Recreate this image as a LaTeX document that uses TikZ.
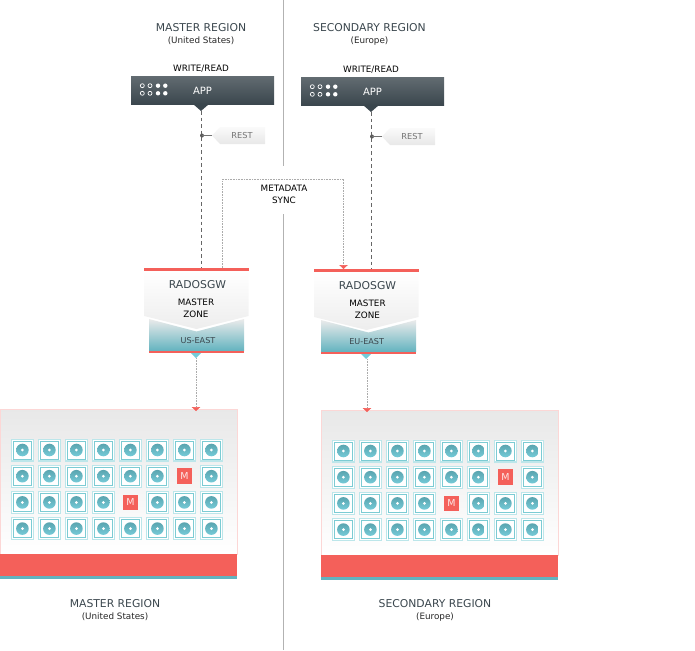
\documentclass[tikz,border=0pt]{standalone}
\usepackage{fontspec}
\setmainfont{DejaVu Sans}
\usetikzlibrary{arrows.meta,calc,positioning}
\definecolor{cephred}{HTML}{F4605A}
\definecolor{cephteal}{HTML}{62B3BF}
\definecolor{cephlight}{HTML}{BCE6EA}
\definecolor{cephedge}{HTML}{7CCBD3}
\definecolor{cephtip}{HTML}{75CBD8}
\definecolor{cephslate}{HTML}{3A464D}
\tikzset{
  regionlabel/.style={font=\fontsize{10.8}{12}\selectfont, text=cephslate, inner sep=0pt},
  sublabel/.style={font=\fontsize{8.8}{10}\selectfont, text=black!85, inner sep=0pt},
  blacklabel/.style={font=\fontsize{8.8}{12}\selectfont, text=black, inner sep=0pt, align=center},
  appbar/.style={minimum width=143pt, minimum height=28pt, inner sep=0pt,
    top color=cephslate!80!white, bottom color=cephslate,
    font=\fontsize{10}{12}\selectfont, text=white},
  resttag/.style={font=\fontsize{8.2}{10}\selectfont, text=black!55, inner sep=0pt},
  dashline/.style={draw=black!60, dash pattern=on 3.5pt off 3pt, line width=0.7pt},
  dotline/.style={draw=black!33, densely dotted, line width=0.6pt},
  redtip/.style={-{Triangle[length=4pt, width=8.5pt, color=cephred]}},
  tilebox/.style={fill=white, draw=cephedge, line width=0.9pt},
  mbox/.style={fill=cephred, minimum size=15.5pt, inner sep=0pt, text=white!85!cephred,
    font=\fontsize{9.5}{11}\selectfont}
}
\begin{document}
\begin{tikzpicture}[x=1pt, y=-1pt]
  \useasboundingbox (0,0) rectangle (695,650);
  % Divider between the two regions
  \coordinate (dividertop) at (283,0);
  \coordinate (dividermid) at (283,166);
  \coordinate (dividerlow) at (283,214);
  \coordinate (dividerend) at (283,650);
  \draw[black!30, line width=0.8pt] (dividertop) -- (dividermid);
  \draw[black!30, line width=0.8pt] (dividerlow) -- (dividerend);

  % === Upper half: app, rest tag and gateway ===
  \foreach \s/\dx/\dy/\hx/\tz/\ez/\rz/\title/\place/\zone in {
    a/0/0/201/0/198/196/MASTER REGION/(United States)/US-EAST,
    b/170/1/369.5/2/196.7/197.5/SECONDARY REGION/(Europe)/EU-EAST} {
    \node[regionlabel] (title\s) at (\hx,27.5) {\title};
    \node[sublabel] (place\s) at (\hx,41) {\place};
    \begin{scope}[shift={(\dx,\dy)}]
      \node[blacklabel] (write\s) at (201,68.5) {WRITE/READ};
      % Gateway block
      \fill[cephred] (144,268) rectangle (248.5,271);
      \path[top color=white, bottom color=black!7]
        (144,271) -- (248.5,271) -- (248.5,316) -- (196.5,329) -- (144,316) -- cycle;
      \begin{scope}[xshift=\tz]
      \path[top color=black!8, bottom color=cephteal]
        (149,319) -- (196.5,331.5) -- (244,319) -- (244,351) -- (149,351) -- cycle;
      \fill[cephred] (149,351) rectangle (244,353);
      \end{scope}
      \fill[cephtip] (191,353) -- (201,353) -- (196,358) -- cycle;
      \node[regionlabel] (rgw\s) at (197.5,285) {RADOSGW};
      \node[blacklabel] (zone\s) at (\rz,308) {MASTER\\ZONE};
      \node[sublabel, font=\fontsize{8.1}{10}\selectfont, text=cephslate] (east\s) at (\ez,340.5) {\zone};
      \coordinate (rgwtop\s) at (201,268);
      % App bar
      \node[appbar] (app\s) at (202.5,90.5) {APP};
      \fill[cephslate] (193,104) -- (209,104) -- (201,111) -- cycle;
      \foreach \py in {85.7,93.3} {
        \foreach \px in {142.3,150} {
          \draw[white, line width=0.7pt] (\px,\py) circle (2pt);
        }
        \foreach \px in {158,165.3} {
          \fill[white] (\px,\py) circle (2.2pt);
        }
      }
      \coordinate (appout\s) at (201,111);
      \draw[dashline] (appout\s) -- (rgwtop\s);
      % Rest tag
      \path[top color=black!2, bottom color=black!9]
        (220,127) -- (265,127) -- (265,144) -- (220,144) -- (212,135.5) -- cycle;
      \node[resttag] (rest\s) at (242,135.5) {REST};
      \coordinate (restdot\s) at (202,135.5);
      \coordinate (restin\s) at (212,135.5);
      \fill[black!65] (restdot\s) circle (2pt);
      \draw[black!55, line width=0.5pt] (restdot\s) -- (restin\s);
    \end{scope}
  }

  % === Lower half: cluster panels ===
  \foreach \s/\cx/\cy/\lx/\title/\place/\ma/\mb in {
    a/0/0/115/MASTER REGION/(United States)/7/5,
    b/321/1/435/SECONDARY REGION/(Europe)/7/5} {
    \node[regionlabel] (lowtitle\s) at (\lx,603.5) {\title};
    \node[sublabel] (lowplace\s) at (\lx,617) {\place};
    \begin{scope}[shift={(\cx,\cy)}]
      \path[top color=black!9, bottom color=white, draw=cephred!25, line width=0.6pt]
        (0,409) rectangle (237,554);
      \fill[cephred] (0,554) rectangle (237,576);
      \fill[cephteal] (0,576) rectangle (237,579);
      \coordinate (panel\s) at (0,409);
      % Disk tiles
      \foreach \c in {1,...,8} {
        \foreach \r in {1,...,4} {
          \pgfmathsetmacro{\tx}{22.4+(\c-1)*27}
          \pgfmathsetmacro{\ty}{450+(\r-1)*26.2}
          \pgfmathtruncatemacro{\ism}{(\c==\ma && \r==2) || (\c==\mb && \r==3) ? 1 : 0}
          \ifnum\ism=1
            \node[mbox] (mon\s\c) at (\tx,\ty) {M};
          \else
            \fill[cephlight] (\tx-11.5,\ty-11.5) rectangle ++(23,23);
            \fill[white] (\tx-10.3,\ty-10.3) rectangle ++(20.6,20.6);
            \draw[tilebox] (\tx-9,\ty-9) rectangle ++(18,18);
            \shade[top color=cephteal!92!black, bottom color=cephtip] (\tx,\ty) circle (6.3pt);
            \fill[white] (\tx,\ty) circle (1.5pt);
          \fi
        }
      }
    \end{scope}
  }

  % === Connectors from gateway to cluster ===
  \coordinate (paneltopa) at (196,411);
  \coordinate (paneltopb) at (367,412);
  \coordinate (gwa) at (196,358);
  \coordinate (gwb) at (367,359);
  \draw[dotline, redtip] (gwa) -- (paneltopa);
  \draw[dotline, redtip] (gwb) -- (paneltopb);

  % Metadata sync
  \coordinate (syncstart) at (222.5,268);
  \coordinate (synctop) at (283,179);
  \coordinate (syncend) at (343.5,269);
  \draw[dotline, redtip] (syncstart) |- (synctop) -| (syncend);
  \node[blacklabel, font=\fontsize{8.8}{11.4}\selectfont] (syncnode) at (284,194.5) {METADATA\\SYNC};
\end{tikzpicture}
\end{document}
